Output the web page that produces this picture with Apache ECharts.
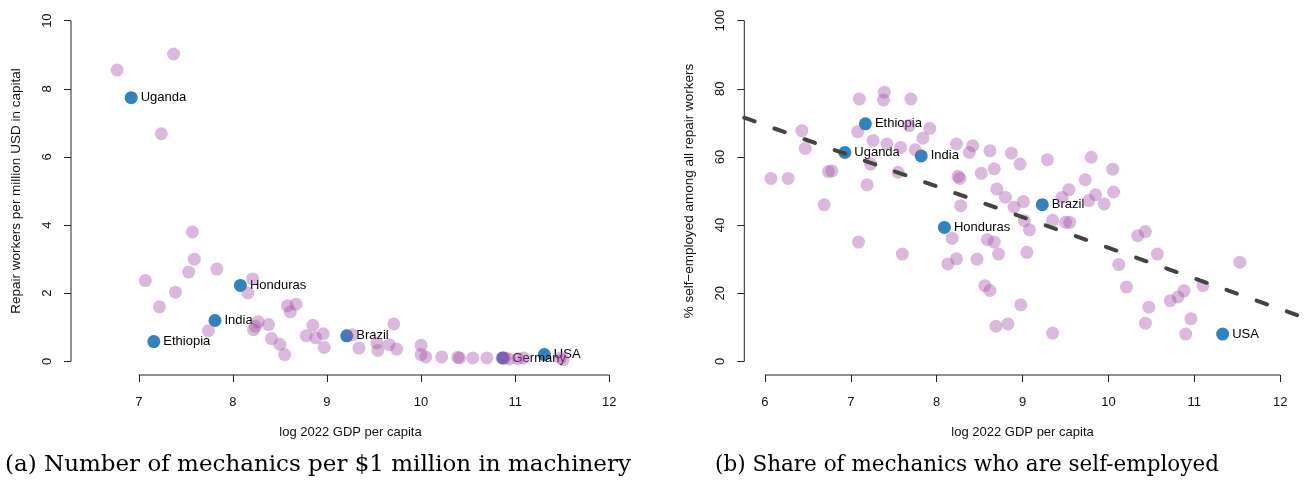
<!DOCTYPE html>
<html>
<head>
<meta charset="utf-8">
<script src="https://cdn.jsdelivr.net/npm/echarts@6/dist/echarts.min.js"></script>
<style>
html,body{margin:0;padding:0;background:#fff;}
#chart{width:1304px;height:489px;}
</style>
</head>
<body>
<div id="chart"></div>
<script>
// ---------- Panel (a) data ----------
const leftX = [7.37, 6.77, 7.24, 7.57, 7.59, 7.53, 7.83, 7.07, 7.39, 7.22, 8.21, 8.16, 8.58, 8.67, 8.61,
  7.74, 8.27, 8.24, 8.22, 8.38, 8.41, 8.50, 8.55, 8.85, 8.78, 8.88, 8.96, 8.97, 9.27, 9.71, 9.34, 9.53,
  9.54, 9.66, 9.74, 10.00, 10.00, 10.05, 10.22, 10.39, 10.41, 10.55, 10.70, 10.86, 10.89, 10.94, 11.03,
  11.09, 11.48, 11.51];
const leftY = [9.02, 8.55, 6.68, 3.80, 3.00, 2.62, 2.71, 2.37, 2.03, 1.60, 2.42, 2.01, 1.63, 1.68, 1.45,
  0.90, 1.16, 1.03, 0.93, 1.08, 0.67, 0.50, 0.20, 1.06, 0.75, 0.69, 0.81, 0.41, 0.78, 1.10, 0.39, 0.54,
  0.32, 0.49, 0.36, 0.47, 0.20, 0.13, 0.13, 0.12, 0.10, 0.10, 0.10, 0.10, 0.10, 0.07, 0.08,
  0.10, 0.10, 0.05];
const leftHiNames = ['Uganda', 'Honduras', 'India', 'Ethiopia', 'Brazil', 'Germany', 'USA'];
const leftHiX = [6.92, 8.08, 7.81, 7.16, 9.21, 10.87, 11.31];
const leftHiY = [7.74, 2.23, 1.20, 0.58, 0.75, 0.10, 0.20];
const leftXTicks = [7, 8, 9, 10, 11, 12];
const leftYTicks = [0, 2, 4, 6, 8, 10];
const leftXRange = [6.28, 12.22];
const leftYRange = [-0.4, 10.4];

// ---------- Panel (b) data ----------
const rightX = [6.07, 6.27, 6.43, 6.47, 6.69, 6.74, 6.78, 7.10, 7.08, 7.26, 7.23, 7.19, 7.39, 7.38, 7.42,
  7.58, 7.55, 7.70, 7.68, 7.75, 7.84, 7.92, 7.09, 7.60, 8.23, 8.42, 8.38, 8.62, 8.87, 8.97, 9.29, 9.80,
  8.25, 8.27, 8.52, 8.67, 8.70, 8.80, 9.01, 8.90, 8.28, 9.46, 9.54, 9.73, 9.77, 9.85, 9.95, 10.06, 10.05,
  8.18, 8.59, 8.67, 8.72, 8.23, 8.13, 8.47, 9.05, 9.02, 9.08, 9.35, 9.50, 9.55, 8.56, 8.62, 8.98, 8.69,
  8.83, 9.35, 10.12, 10.21, 10.34, 10.43, 10.57, 11.53, 11.10, 10.88, 10.81, 10.72, 10.47, 10.43, 10.96,
  10.90];
const rightY = [53.7, 53.7, 67.7, 62.5, 46.0, 55.7, 55.9, 77.0, 67.4, 64.8, 57.9, 51.8, 79.0, 76.7, 63.8,
  62.8, 55.5, 77.0, 69.2, 62.1, 65.5, 68.4, 35.0, 31.5, 63.8, 63.3, 61.3, 61.8, 61.1, 57.9, 59.2, 59.9,
  54.3, 53.7, 55.2, 56.5, 50.6, 48.2, 46.9, 45.3, 45.7, 48.1, 50.4, 53.3, 47.2, 48.9, 46.2, 49.7, 56.4,
  36.1, 35.7, 35.0, 31.5, 30.1, 28.6, 30.0, 32.0, 41.3, 38.6, 41.4, 40.8, 40.8, 22.2, 20.8, 16.6, 10.3,
  11.0, 8.3, 28.4, 21.8, 36.9, 38.1, 31.5, 29.1, 22.2, 20.7, 18.9, 17.8, 15.9, 11.2, 12.5,
  8.0];
const rightHiNames = ['Ethiopia', 'Uganda', 'India', 'Brazil', 'Honduras', 'USA'];
const rightHiX = [7.17, 6.93, 7.82, 9.23, 8.09, 11.33];
const rightHiY = [69.7, 61.3, 60.3, 46.0, 39.3, 8.0];
const trendX = [5.76, 12.24];
const trendY = [71.5, 13.2];
const rightXTicks = [6, 7, 8, 9, 10, 11, 12];
const rightYTicks = [0, 20, 40, 60, 80, 100];
const rightXRange = [5.76, 12.24];
const rightYRange = [-4, 104];

const xTitle = 'log 2022 GDP per capita';
const leftYTitle = 'Repair workers per million USD in capital';
const rightYTitle = '% self\u2212employed among all repair workers';
const captionA = '(a) Number of mechanics per $1 million in machinery';
const captionB = '(b) Share of mechanics who are self-employed';

// ---------- styles ----------
const FONT = 'Liberation Sans';
const PURPLE = 'rgba(164, 80, 168, 0.5)';
const BLUE = '#3182bd';
const AXIS_COLOR = '#222';

const zip = (xs, ys) => xs.map((x, i) => [x, ys[i]]);

function makeXAxis(gridIndex, range, ticks) {
  return {
    type: 'value', gridIndex, min: range[0], max: range[1],
    splitLine: {show: false},
    axisLine: {show: false, onZero: false},
    axisTick: {show: true, inside: false, length: 7, customValues: ticks, lineStyle: {color: AXIS_COLOR, width: 1}},
    axisLabel: {show: true, customValues: ticks, margin: 21, fontFamily: FONT, fontSize: 13, color: '#111'},
    name: xTitle, nameLocation: 'middle', nameGap: 51,
    nameTextStyle: {fontFamily: FONT, fontSize: 13, color: '#111'}
  };
}
function makeYAxis(gridIndex, range, ticks, title) {
  return {
    type: 'value', gridIndex, min: range[0], max: range[1],
    splitLine: {show: false},
    axisLine: {show: false, onZero: false},
    axisTick: {show: true, inside: false, length: 7, customValues: ticks, lineStyle: {color: AXIS_COLOR, width: 1}},
    axisLabel: {show: true, customValues: ticks, rotate: 90, margin: 17, fontFamily: FONT, fontSize: 13, color: '#111'},
    name: title, nameLocation: 'middle', nameGap: 48, nameRotate: 90,
    nameTextStyle: {fontFamily: FONT, fontSize: 13.5, color: '#111'}
  };
}
function axisLines(idx, xr, yr, xt, yt) {
  const common = {type: 'line', xAxisIndex: idx, yAxisIndex: idx, clip: false, symbol: 'none', silent: true,
    lineStyle: {color: AXIS_COLOR, width: 1}, z: 1, animation: false};
  return [
    Object.assign({}, common, {data: [[xt[0], yr[0]], [xt[xt.length - 1], yr[0]]]}),
    Object.assign({}, common, {data: [[xr[0], yt[0]], [xr[0], yt[yt.length - 1]]]})
  ];
}
function hiSeries(idx, names, xs, ys) {
  return {
    type: 'scatter', xAxisIndex: idx, yAxisIndex: idx, symbolSize: 13, z: 2,
    itemStyle: {color: BLUE, opacity: 1},
    data: names.map((n, i) => ({name: n, value: [xs[i], ys[i]]})),
    label: {show: true, position: 'right', distance: 3, formatter: p => p.name,
      fontFamily: FONT, fontSize: 13, color: '#000'},
    animation: false
  };
}
function purpleSeries(idx, xs, ys) {
  return {
    type: 'scatter', xAxisIndex: idx, yAxisIndex: idx, symbolSize: 13, z: 3,
    itemStyle: {color: PURPLE},
    data: zip(xs, ys), animation: false
  };
}

const chart = echarts.init(document.getElementById('chart'), null, {renderer: 'canvas'});
const option = {
  backgroundColor: '#fff',
  animation: false,
  grid: [
    {left: 71, top: 7, width: 559, height: 368},
    {left: 744.3, top: 7, width: 556.5, height: 368}
  ],
  xAxis: [makeXAxis(0, leftXRange, leftXTicks), makeXAxis(1, rightXRange, rightXTicks)],
  yAxis: [makeYAxis(0, leftYRange, leftYTicks, leftYTitle), makeYAxis(1, rightYRange, rightYTicks, rightYTitle)],
  series: [
    ...axisLines(0, leftXRange, leftYRange, leftXTicks, leftYTicks),
    ...axisLines(1, rightXRange, rightYRange, rightXTicks, rightYTicks),
    hiSeries(0, leftHiNames, leftHiX, leftHiY),
    purpleSeries(0, leftX, leftY),
    hiSeries(1, rightHiNames, rightHiX, rightHiY),
    purpleSeries(1, rightX, rightY),
    {
      type: 'line', xAxisIndex: 1, yAxisIndex: 1, symbol: 'none', clip: true, z: 5,
      data: zip(trendX, trendY),
      lineStyle: {color: '#444', width: 4, type: [11, 21], cap: 'round'},
      animation: false
    }
  ],
  graphic: [
    {type: 'text', x: 318, y: 465, style: {text: captionA, font: '23px "DejaVu Serif"', fill: '#000', align: 'center', verticalAlign: 'middle'}},
    {type: 'text', x: 967, y: 465, style: {text: captionB, font: '21.5px "DejaVu Serif"', fill: '#000', align: 'center', verticalAlign: 'middle'}}
  ]
};
chart.setOption(option);
</script>
</body>
</html>
